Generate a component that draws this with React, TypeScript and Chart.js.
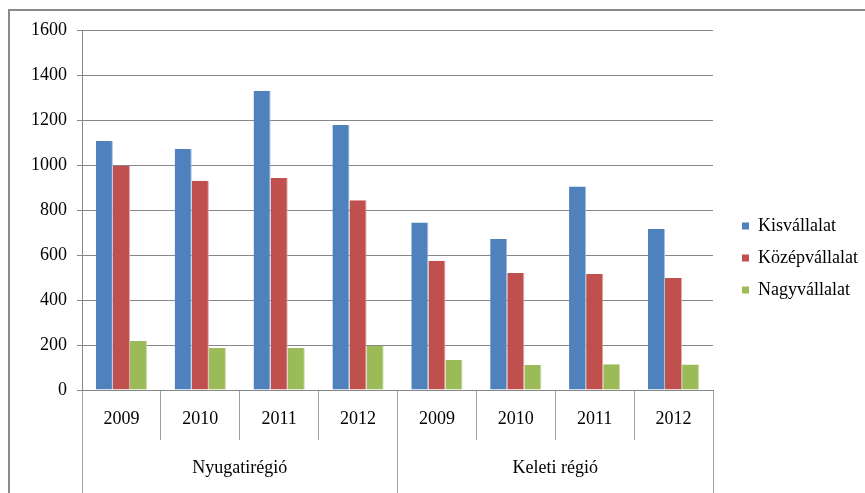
import React, { useEffect, useRef } from "react";
import { Chart, registerables } from "chart.js";

Chart.register(...registerables);

const years = ["2009", "2010", "2011", "2012", "2009", "2010", "2011", "2012"];
const regions = ["Nyugatirégió", "Keleti régió"];
const seriesNames = ["Kisvállalat", "Középvállalat", "Nagyvállalat"];
const kisvallalat = [1107, 1071, 1329, 1178, 744, 671, 904, 716];
const kozepvallalat = [997, 930, 942, 843, 575, 520, 516, 498];
const nagyvallalat = [218, 187, 187, 196, 133, 111, 115, 113];

const FONT = "'Liberation Serif', 'Times New Roman', serif";
const GRID = "#878787";
const FS = 18;

const framePlugin = {
  id: "frame",
  afterDraw(chart: any) {
    const ctx = chart.ctx;
    ctx.save();
    ctx.strokeStyle = "#8a8a8a";
    ctx.lineWidth = 2;
    ctx.beginPath();
    ctx.moveTo(9, chart.height);
    ctx.lineTo(9, 10);
    ctx.lineTo(chart.width, 10);
    ctx.stroke();
    ctx.restore();
  },
};

export default function App() {
  const ref = useRef<HTMLCanvasElement | null>(null);

  useEffect(() => {
    if (!ref.current) return;
    const chart = new Chart(ref.current, {
      type: "bar",
      data: {
        labels: years,
        datasets: [
          {
            label: seriesNames[0],
            data: kisvallalat,
            backgroundColor: "#4F81BD",
            borderColor: "#a7c0df",
            borderWidth: { right: 1, left: 0, top: 0, bottom: 0 },
            borderSkipped: false,
          },
          {
            label: seriesNames[1],
            data: kozepvallalat,
            backgroundColor: "#C0504D",
            borderColor: "#dfa8a6",
            borderWidth: { right: 1, left: 0, top: 0, bottom: 0 },
            borderSkipped: false,
          },
          {
            label: seriesNames[2],
            data: nagyvallalat,
            backgroundColor: "#9BBB59",
            borderColor: "#cddcac",
            borderWidth: { right: 1, left: 0, top: 0, bottom: 0 },
            borderSkipped: false,
          },
        ],
      },
      options: {
        responsive: false,
        animation: false,
        events: [],
        datasets: {
          bar: { categoryPercentage: 0.65, barPercentage: 1.0 },
        },
        layout: { padding: { top: 30, left: 0, right: 0, bottom: 0 } },
        plugins: {
          tooltip: { enabled: false },
          legend: {
            position: "right",
            fullSize: false,
            maxWidth: 137,
            title: {
              display: true,
              text: " ",
              font: { family: FONT, size: 10, lineHeight: 1 },
              padding: { top: 86, bottom: 0 },
            },
            labels: {
              boxWidth: 7,
              boxHeight: 7,
              padding: 14,
              color: "#000",
              font: { family: FONT, size: FS },
              generateLabels: (c: any) =>
                c.data.datasets.map((d: any, i: number) => ({
                  text: d.label,
                  fillStyle: d.backgroundColor,
                  strokeStyle: d.backgroundColor,
                  lineWidth: 0,
                  hidden: false,
                  datasetIndex: i,
                  fontColor: "#000",
                })),
            },
          },
        },
        scales: {
          x: {
            type: "category",
            position: "bottom",
            offset: true,
            grid: {
              offset: true,
              drawOnChartArea: false,
              drawTicks: true,
              tickLength: 50,
              color: "#a0a0a0",
              lineWidth: 1,
            },
            border: { display: true, color: GRID, width: 1 },
            ticks: {
              color: "#000",
              font: { family: FONT, size: FS },
              padding: -32,
              maxRotation: 0,
              autoSkip: false,
            },
            afterFit: (s: any) => {
              s.height = 50;
            },
          },
          x2: {
            type: "category",
            position: "bottom",
            labels: regions,
            offset: true,
            grid: {
              offset: true,
              drawOnChartArea: false,
              drawTicks: true,
              tickLength: 53,
              color: "#a0a0a0",
              lineWidth: 1,
            },
            border: { display: false },
            ticks: {
              color: "#000",
              font: { family: FONT, size: FS },
              padding: -36,
              maxRotation: 0,
              autoSkip: false,
            },
            afterFit: (s: any) => {
              s.height = 53;
            },
          },
          y: {
            type: "linear",
            position: "left",
            min: 0,
            max: 1600,
            ticks: {
              stepSize: 200,
              color: "#000",
              font: { family: FONT, size: FS },
              padding: 10,
              callback: (v: any) => String(v),
            },
            grid: {
              color: GRID,
              lineWidth: 1,
              tickLength: 5,
            },
            border: { display: true, color: GRID, width: 1 },
            afterFit: (s: any) => {
              s.width = 82;
            },
          },
          yr: {
            type: "linear",
            position: "right",
            display: true,
            grid: { display: false, drawTicks: false },
            border: { display: false },
            ticks: { display: false },
            afterFit: (s: any) => {
              s.width = 15;
            },
          },
        },
      },
      plugins: [framePlugin],
    });
    return () => chart.destroy();
  }, []);

  return (
    <div style={{ position: "absolute", left: 0, top: 0, width: 865, height: 493, background: "#fff" }}>
      <canvas ref={ref} width={865} height={493} style={{ display: "block" }} />
    </div>
  );
}
